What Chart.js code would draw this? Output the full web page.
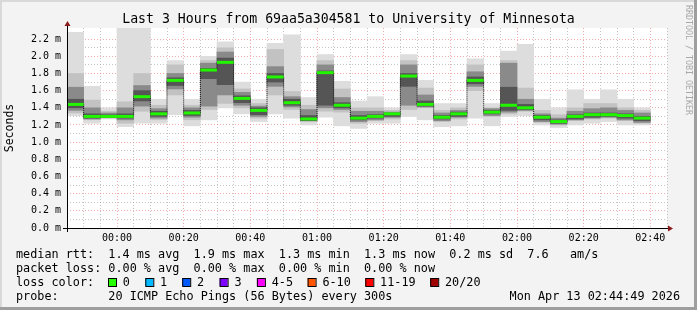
<!DOCTYPE html>
<html>
<head>
<meta charset="utf-8">
<script src="https://cdn.jsdelivr.net/npm/chart.js@4.4.1/dist/chart.umd.min.js"></script>
<style>
  html, body { margin: 0; padding: 0; background: #f3f3f3; }
  canvas { display: block; }
</style>
</head>
<body>
<canvas id="smoke" width="697" height="310"></canvas>
<script>
/* ---- data (values in ms) ---- */

// start of each 5 minute step
const slots = [
  '23:45', '23:50', '23:55',
  '00:00', '00:05', '00:10', '00:15', '00:20', '00:25', '00:30', '00:35', '00:40', '00:45', '00:50', '00:55',
  '01:00', '01:05', '01:10', '01:15', '01:20', '01:25', '01:30', '01:35', '01:40', '01:45', '01:50', '01:55',
  '02:00', '02:05', '02:10', '02:15', '02:20', '02:25', '02:30', '02:35'
];

const medianRtt = [1.44, 1.30, 1.30, 1.30, 1.53, 1.33, 1.72, 1.34, 1.84, 1.93, 1.51, 1.37, 1.76, 1.46, 1.27, 1.81, 1.43, 1.28,
  1.30, 1.33, 1.77, 1.44, 1.29, 1.33, 1.72, 1.35, 1.43, 1.40, 1.29, 1.24, 1.30, 1.32, 1.32, 1.31, 1.28];

// outer smoke: slowest / fastest ping
const rttMax = [2.28, 1.65, 1.40, 2.33, 2.33, 1.50, 1.95, 1.50, 2.00, 2.17, 1.70, 1.50, 2.15, 2.25, 1.52, 2.02, 1.71, 1.48,
  1.53, 1.40, 2.02, 1.72, 1.45, 1.45, 1.97, 1.45, 2.06, 2.14, 1.50, 1.40, 1.61, 1.50, 1.61, 1.50, 1.40];
const rttMin = [1.31, 1.22, 1.27, 1.18, 1.22, 1.22, 1.32, 1.19, 1.26, 1.40, 1.33, 1.24, 1.33, 1.28, 1.20, 1.29, 1.19, 1.16,
  1.22, 1.22, 1.30, 1.26, 1.18, 1.19, 1.28, 1.19, 1.30, 1.31, 1.20, 1.17, 1.20, 1.22, 1.24, 1.20, 1.20];

// middle smoke band
const midHi = [1.80, 1.49, 1.36, 1.47, 1.80, 1.43, 1.90, 1.43, 1.95, 2.10, 1.62, 1.45, 2.08, 1.59, 1.43, 1.95, 1.62, 1.40,
  1.40, 1.37, 1.95, 1.63, 1.37, 1.40, 1.90, 1.40, 1.95, 1.63, 1.37, 1.32, 1.40, 1.45, 1.45, 1.40, 1.37];
const midLo = [1.34, 1.26, 1.28, 1.22, 1.36, 1.26, 1.55, 1.26, 1.38, 1.45, 1.40, 1.28, 1.55, 1.38, 1.24, 1.36, 1.35, 1.22,
  1.25, 1.27, 1.38, 1.40, 1.24, 1.27, 1.60, 1.30, 1.33, 1.36, 1.23, 1.20, 1.25, 1.27, 1.28, 1.25, 1.22];

// grey core
const coreHi = [1.64, 1.40, 1.34, 1.40, 1.66, 1.39, 1.80, 1.40, 1.92, 2.05, 1.58, 1.42, 1.88, 1.53, 1.38, 1.90, 1.52, 1.36,
  1.36, 1.35, 1.90, 1.55, 1.34, 1.37, 1.82, 1.39, 1.92, 1.50, 1.33, 1.28, 1.36, 1.39, 1.40, 1.37, 1.34];
const coreLo = [1.37, 1.27, 1.29, 1.26, 1.42, 1.28, 1.62, 1.29, 1.42, 1.55, 1.43, 1.30, 1.65, 1.41, 1.26, 1.40, 1.38, 1.24,
  1.26, 1.29, 1.43, 1.41, 1.25, 1.29, 1.65, 1.31, 1.35, 1.37, 1.24, 1.21, 1.26, 1.28, 1.29, 1.26, 1.23];

// darkest smoke right around the median
const innerHi = [1.50, 1.33, 1.32, 1.33, 1.60, 1.36, 1.75, 1.37, 1.86, 1.98, 1.54, 1.40, 1.80, 1.50, 1.31, 1.83, 1.46, 1.31,
  1.32, 1.34, 1.80, 1.48, 1.31, 1.35, 1.76, 1.37, 1.64, 1.44, 1.31, 1.26, 1.32, 1.34, 1.34, 1.33, 1.30];
const innerLo = [1.40, 1.28, 1.29, 1.28, 1.48, 1.30, 1.66, 1.31, 1.74, 1.67, 1.46, 1.32, 1.70, 1.43, 1.25, 1.43, 1.40, 1.26,
  1.28, 1.30, 1.65, 1.42, 1.27, 1.30, 1.68, 1.33, 1.37, 1.38, 1.26, 1.22, 1.27, 1.29, 1.30, 1.28, 1.25];

const tickLabels = ['00:00', '00:20', '00:40', '01:00', '01:20', '01:40', '02:00', '02:20', '02:40'];

const lossLevels = ['0', '1', '2', '3', '4-5', '6-10', '11-19', '20/20'];
const lossColors = ['#26ff00', '#00b8ff', '#0059ff', '#7e00ff', '#ff00ff', '#ff5500', '#ff0000', '#a10000'];

const titleText = 'Last 3 Hours from 69aa5a304581 to University of Minnesota';
const statLines = [
  'median rtt:  1.4 ms avg  1.9 ms max  1.3 ms min  1.3 ms now  0.2 ms sd  7.6   am/s',
  'packet loss: 0.00 % avg  0.00 % max  0.00 % min  0.00 % now',
  'loss color:',
  'probe:       20 ICMP Echo Pings (56 Bytes) every 300s'
];
const stampText = 'Mon Apr 13 02:44:49 2026';

/* ---- helpers ---- */

const MONO = '"DejaVu Sans Mono", "Liberation Mono", monospace';
const MAJOR = 'rgba(235, 90, 90, 0.5)';
const MINOR = 'rgba(150, 150, 150, 0.55)';

// minutes relative to 00:00, the evening before counts negative
function toMinutes(t) {
  const [h, m] = t.split(':').map(Number);
  const mins = h * 60 + m;
  return h >= 12 ? mins - 1440 : mins;
}

const centers = slots.map(s => toMinutes(s) + 2.5);
const band = (lo, hi) => centers.map((x, i) => ({ x, y: [lo[i], hi[i]] }));

function stepWidth(chart) {
  const s = chart.scales.x;
  return s.getPixelForValue(5) - s.getPixelForValue(0);
}

const smokeBar = (data, color, order) => ({
  type: 'bar',
  data,
  backgroundColor: color,
  borderWidth: 0,
  grouped: false,
  barPercentage: 1,
  categoryPercentage: 1,
  order
});

/* ---- rrdtool look: frame, title, arrows, legend ---- */

const rrdDecor = {
  id: 'rrdDecor',
  beforeDraw(chart) {
    const { ctx, chartArea: a, width, height } = chart;
    ctx.save();
    ctx.fillStyle = '#f3f3f3';
    ctx.fillRect(0, 0, width, height);
    ctx.fillStyle = '#d9d9d9';
    ctx.fillRect(0, 0, width, 2);
    ctx.fillRect(0, 0, 2, height);
    ctx.fillStyle = '#9e9e9e';
    ctx.fillRect(0, height - 3, width, 3);
    ctx.fillRect(width - 3, 0, 3, height);
    ctx.fillStyle = '#ffffff';
    ctx.fillRect(a.left, a.top, a.right - a.left, a.bottom - a.top);
    ctx.restore();
  },
  afterDraw(chart) {
    const { ctx, chartArea: a, width } = chart;
    ctx.save();

    // axes + arrows
    ctx.strokeStyle = '#000';
    ctx.lineWidth = 1;
    ctx.beginPath();
    ctx.moveTo(a.left - 4, a.bottom + 0.5);
    ctx.lineTo(a.right + 1, a.bottom + 0.5);
    ctx.moveTo(a.left + 0.5, a.bottom + 4);
    ctx.lineTo(a.left + 0.5, a.top - 3);
    ctx.stroke();
    ctx.fillStyle = '#8b1a1a';
    ctx.beginPath();
    ctx.moveTo(a.left + 0.5, a.top - 7);
    ctx.lineTo(a.left - 2.5, a.top - 2);
    ctx.lineTo(a.left + 3.5, a.top - 2);
    ctx.closePath();
    ctx.fill();
    ctx.beginPath();
    ctx.moveTo(a.right + 6, a.bottom + 0.5);
    ctx.lineTo(a.right + 1, a.bottom - 2.5);
    ctx.lineTo(a.right + 1, a.bottom + 3.5);
    ctx.closePath();
    ctx.fill();

    // title
    ctx.fillStyle = '#000';
    ctx.textBaseline = 'middle';
    ctx.textAlign = 'center';
    ctx.font = '13.2px ' + MONO;
    ctx.fillText(titleText, width / 2, 19.5);

    // vertical axis label
    ctx.save();
    ctx.translate(10.5, (a.top + a.bottom) / 2);
    ctx.rotate(-Math.PI / 2);
    ctx.font = '11.5px ' + MONO;
    ctx.fillText('Seconds', 0, 0);
    ctx.restore();

    // watermark
    ctx.save();
    ctx.translate(688, 60);
    ctx.rotate(Math.PI / 2);
    ctx.font = '8.3px ' + MONO;
    ctx.fillStyle = '#a8a8a8';
    ctx.fillText('RRDTOOL / TOBI OETIKER', 0, 0);
    ctx.restore();

    // legend block
    ctx.textAlign = 'left';
    ctx.font = '11.8px ' + MONO;
    const rows = [254.5, 268.5, 282.5, 296.5];
    statLines.forEach((line, i) => ctx.fillText(line, 16, rows[i]));
    const boxX = [108, 145.3, 182.2, 219.6, 256.9, 307.6, 365.3, 430.2];
    lossLevels.forEach((lv, i) => {
      ctx.fillStyle = lossColors[i];
      ctx.fillRect(boxX[i], rows[2] - 4.5, 8, 8);
      ctx.strokeStyle = '#000';
      ctx.strokeRect(boxX[i] + 0.5, rows[2] - 4.5 + 0.5, 8, 8);
      ctx.fillStyle = '#000';
      ctx.fillText(lv, boxX[i] + 14.8, rows[2]);
    });
    ctx.textAlign = 'right';
    ctx.fillText(stampText, 680, rows[3]);

    ctx.restore();
  }
};

/* ---- chart ---- */

new Chart(document.getElementById('smoke'), {
  type: 'bar',
  data: {
    datasets: [
      {
        type: 'line',
        data: centers.map((x, i) => ({ x, y: medianRtt[i] })),
        showLine: false,
        pointStyle: 'line',
        pointRadius: ctx => stepWidth(ctx.chart) / 2,
        pointBorderWidth: 3,
        pointBorderColor: '#22f500',
        pointBackgroundColor: '#22f500',
        order: 0
      },
      {
        type: 'line',
        data: centers.map((x, i) => ({ x, y: medianRtt[i] })),
        stepped: 'middle',
        borderColor: '#1a1a1a',
        borderWidth: 1,
        borderDash: [1, 1],
        pointRadius: 0,
        order: 1
      },
      smokeBar(band(innerLo, innerHi), '#555555', 2),
      smokeBar(band(coreLo, coreHi), '#8a8a8a', 3),
      smokeBar(band(midLo, midHi), '#c2c2c2', 4),
      smokeBar(band(rttMin, rttMax), '#dddddd', 5)
    ]
  },
  options: {
    responsive: false,
    animation: false,
    devicePixelRatio: 1,
    layout: { padding: { top: 28, right: 30, left: 0, bottom: 0 } },
    plugins: {
      legend: { display: false },
      tooltip: { enabled: false },
      title: { display: false }
    },
    scales: {
      x: {
        type: 'linear',
        min: -15,
        max: 165,
        offset: false,
        z: 1,
        afterFit: s => { s.height = 82; },
        border: { display: false, dash: [1, 2] },
        grid: {
          offset: false,
          drawTicks: false,
          color: c => (c.tick && c.tick.value % 20 === 0 ? MAJOR : MINOR)
        },
        ticks: {
          stepSize: 5,
          autoSkip: false,
          maxRotation: 0,
          padding: 4,
          color: '#000',
          font: { family: MONO, size: 10 },
          callback: v => (v >= 0 && v % 20 === 0 ? tickLabels[v / 20] : '')
        }
      },
      y: {
        min: 0,
        max: 2.33,
        z: 1,
        afterFit: s => { s.width = 67; },
        border: { display: false, dash: [1, 2] },
        grid: {
          drawTicks: false,
          color: c => {
            const k = Math.round(c.tick.value * 10);
            if (Math.abs(c.tick.value * 10 - k) > 1e-6) return 'rgba(0,0,0,0)';
            return k % 2 === 0 ? MAJOR : MINOR;
          }
        },
        ticks: {
          stepSize: 0.1,
          autoSkip: false,
          padding: 6,
          color: '#000',
          font: { family: MONO, size: 10 },
          callback: v => {
            const k = Math.round(v * 10);
            return Math.abs(v * 10 - k) < 1e-6 && k % 2 === 0 ? (k / 10).toFixed(1) + ' m' : '';
          }
        }
      }
    }
  },
  plugins: [rrdDecor]
});
</script>
</body>
</html>
